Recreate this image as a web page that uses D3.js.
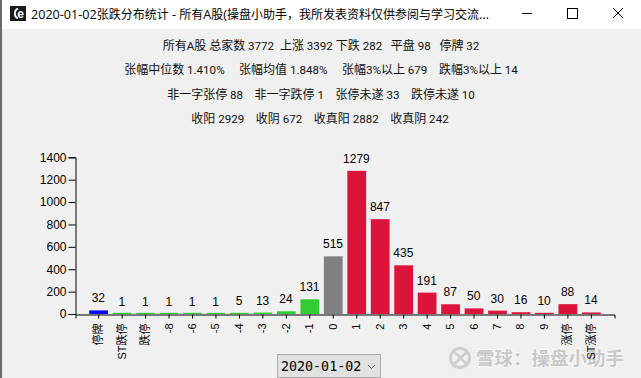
<!DOCTYPE html>
<html><head><meta charset="utf-8">
<script src="https://d3js.org/d3.v7.min.js"></script>
<style>html,body{margin:0;padding:0;background:#f0f0f0;overflow:hidden}svg{display:block}</style>
</head><body><svg id="c" width="641" height="378"></svg>
<script>
const categories=["停牌","ST跌停","跌停","-8","-6","-5","-4","-3","-2","-1","0","1","2","3","4","5","6","7","8","9","涨停","ST涨停"];
const counts=[32,1,1,1,1,1,5,13,24,131,515,1279,847,435,191,87,50,30,16,10,88,14];
const barColors=["#0000ff","#32cd32","#32cd32","#32cd32","#32cd32","#32cd32","#32cd32","#32cd32","#32cd32","#32cd32","#808080","#dc143c","#dc143c","#dc143c","#dc143c","#dc143c","#dc143c","#dc143c","#dc143c","#dc143c","#dc143c","#dc143c"];
const yTicks=[0,200,400,600,800,1000,1200,1400];
const titleText="2020-01-02张跌分布统计 - 所有A股(操盘小助手，我所发表资料仅供参阅与学习交流...";
const statLines=[
 "所有A股 总家数 3772  上涨 3392 下跌 282   平盘 98   停牌 32",
 "张幅中位数 1.410%     张幅均值 1.848%     张幅3%以上 679    跌幅3%以上 14",
 "非一字张停 88    非一字跌停 1    张停未遂 33    跌停未遂 10",
 "收阳 2929    收阴 672    收真阳 2882    收真阴 242"];
const dateValue="2020-01-02";
const watermark="雪球：操盘小助手";

const svg=d3.select("#c");
const CJK='"Noto Sans CJK SC",sans-serif';
const CH='"Liberation Sans","Noto Sans CJK SC",sans-serif';
function runs(sel,str,asciiFont,asciiSize,cjkSize){
  str.split(/([\u4e00-\u9fff，：]+)/).filter(s=>s.length).forEach(s=>{
    const isC=/[\u4e00-\u9fff，：]/.test(s);
    sel.append("tspan").attr("font-family",isC?CJK:asciiFont).attr("font-size",isC?cjkSize:asciiSize).style("white-space","pre").text(s);
  });
}
svg.append("rect").attr("width",641).attr("height",378).attr("fill","#f0f0f0");
svg.append("rect").attr("width",641).attr("height",29).attr("fill","#ffffff");
svg.append("rect").attr("width",2).attr("height",378).attr("fill","#6b6b6b");
// icon
svg.append("rect").attr("x",10).attr("y",6).attr("width",16).attr("height",15).attr("fill","#1a1a1a");
svg.append("path").attr("d","M18,8.5A5.5,5.5,0,0,0,18,18.5").attr("fill","none").attr("stroke","#fff").attr("stroke-width",1.8);
svg.append("text").attr("x",20.5).attr("y",17.5).attr("text-anchor","middle").attr("font-family",CH).attr("font-weight","bold").attr("font-size",12).attr("fill","#fff").text("e");
const tt=svg.append("text").attr("x",31).attr("y",18.5).attr("fill","#000").style("white-space","pre");
runs(tt,titleText,'"Open Sans",sans-serif',12.6,12);
// window buttons
svg.append("line").attr("x1",522).attr("x2",532).attr("y1",13.5).attr("y2",13.5).attr("stroke","#000");
svg.append("rect").attr("x",567.5).attr("y",8.5).attr("width",10).attr("height",10).attr("fill","none").attr("stroke","#000");
svg.append("path").attr("d","M613,8L623,18M623,8L613,18").attr("stroke","#000").attr("fill","none");
// stats
const statY=[49.5,73.5,98.5,122.5];
statLines.forEach((l,i)=>{
  const t=svg.append("text").attr("x",i==3?320:321).attr("y",statY[i]).attr("text-anchor","middle").attr("fill","#111").style("white-space","pre");
  runs(t,l,'Roboto,sans-serif',11.6,12);
});
// scales
const x=d3.scaleBand().domain(categories).range([75.5,614.5]).paddingInner(0.2).paddingOuter(0.587);
const y=d3.scaleLinear().domain([0,1400]).range([314,157.3]);
// watermark
svg.append("circle").attr("cx",460).attr("cy",358).attr("r",9.5).attr("fill","none").attr("stroke","#cfcfcf").attr("stroke-width",3.2);
svg.append("path").attr("d","M454,352L461,358L454,364M467,352L460,358L467,364").attr("fill","none").attr("stroke","#cfcfcf").attr("stroke-width",2.4);
svg.append("text").attr("x",476).attr("y",365).attr("font-family",CJK).attr("font-weight","bold").attr("font-size",18.5)
 .attr("fill","#c8c8c8").attr("stroke","#f8f8f8").attr("stroke-width",2).style("paint-order","stroke").text(watermark);
// bars
svg.selectAll("rect.b").data(counts).join("rect").attr("class","b")
 .attr("x",(d,i)=>x(categories[i])).attr("width",x.bandwidth())
 .attr("y",d=>y(0)-Math.max(y(0)-y(d),1.2)).attr("height",d=>Math.max(y(0)-y(d),1.2)).attr("fill",(d,i)=>barColors[i]);
// bar labels
svg.selectAll("text.v").data(counts).join("text").attr("class","v")
 .attr("x",(d,i)=>x(categories[i])+x.bandwidth()/2-0.3).attr("y",d=>y(d)-8).attr("text-anchor","middle")
 .attr("font-family",CH).attr("font-size",12).attr("fill","#000").text(d=>d);
// axes
const yAxis=svg.append("g").attr("transform","translate(75.5,0)").call(d3.axisLeft(y).tickValues(yTicks).tickFormat(d3.format("d")).tickSize(7).tickPadding(2));
const xAxis=svg.append("g").attr("transform","translate(0,314.5)").call(d3.axisBottom(x).tickSize(4).tickSizeOuter(4));
[yAxis,xAxis].forEach(g=>{g.selectAll("path,line").attr("stroke","#000").attr("stroke-width",1);g.selectAll("text").attr("fill","#000").attr("font-family",CH);});
yAxis.selectAll("text").attr("font-size",12);
xAxis.selectAll("text").attr("font-size",11).attr("text-anchor","end").attr("dy",0)
 .attr("transform","translate(3.5,9) rotate(-90)").attr("x",0).attr("y",0);
// dropdown
svg.append("rect").attr("x",277.5).attr("y",354.5).attr("width",103).attr("height",23).attr("fill","#e1e1e1").attr("stroke","#adadad");
svg.append("text").attr("x",281).attr("y",371).attr("font-family",'"DejaVu Sans Mono",monospace').attr("font-size",13.33).attr("fill","#000").text(dateValue);
svg.append("path").attr("d","M368,365L371.5,368.5L375,365").attr("fill","none").attr("stroke","#606060");
</script></body></html>
